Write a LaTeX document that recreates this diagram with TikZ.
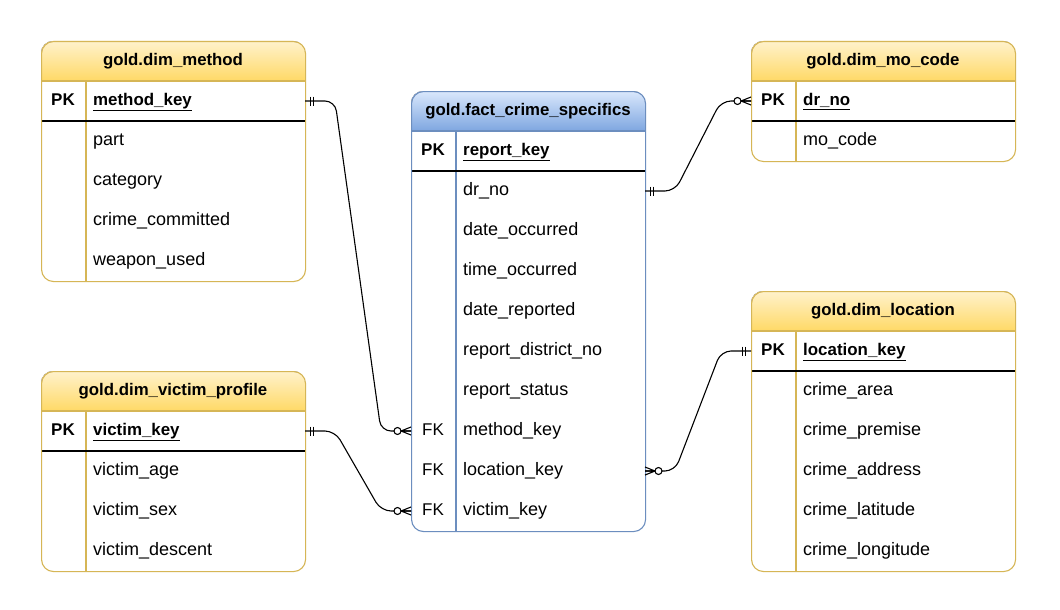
\documentclass[tikz,border=0pt]{standalone}
\usepackage{fontspec}
\setmainfont{Liberation Sans}
\definecolor{yelframe}{HTML}{D6B656}
\definecolor{yeltop}{HTML}{FFF2CC}
\definecolor{yelbot}{HTML}{FFD966}
\definecolor{bluframe}{HTML}{6C8EBF}
\definecolor{blutop}{HTML}{DAE8FC}
\definecolor{blubot}{HTML}{7EA6E0}
\tikzset{
  yel head/.style={top color=yeltop,bottom color=yelbot},
  yel frame/.style={draw=yelframe,line width=1.1pt,rounded corners=12pt},
  yel line/.style={draw=yelframe,line width=1.1pt},
  blu head/.style={top color=blutop,bottom color=blubot},
  blu frame/.style={draw=bluframe,line width=1.1pt,rounded corners=12pt},
  blu line/.style={draw=bluframe,line width=1.1pt},
  sepline/.style={draw=black,line width=1.1pt},
  tabletitle/.style={font=\fontsize{16.8}{20}\selectfont\bfseries,inner sep=0pt,text height=12.5pt,text depth=4pt},
  keytext/.style={font=\fontsize{17}{20}\selectfont,inner sep=0pt,text height=12.5pt,text depth=4pt},
  fieldtext/.style={font=\fontsize{18}{21}\selectfont,inner sep=0pt,text height=13pt,text depth=4pt,anchor=west},
  rel/.style={draw=black,line width=1.1pt,rounded corners=10pt},
  ermark/.style={draw=black,line width=1.1pt},
}
\newcommand\pkfield[1]{{\fontsize{16.9}{20}\selectfont\bfseries\underline{#1}}}
% #1 name #2 x #3 y #4 width #5 rows #6 title #7 colour kind #8 rows list
\newcommand\ertable[8]{%
  \pgfmathsetmacro\erh{40*(#5+1)}%
  \begin{scope}
    \clip[rounded corners=12pt] (#2,#3) rectangle ++(#4,\erh);
    \fill[#7 head] (#2,#3) rectangle ++(#4,40);
  \end{scope}
  \draw[#7 line] (#2,#3+40) -- ++(#4,0);
  \draw[#7 line] (#2+45,#3+40) -- (#2+45,#3+\erh);
  \draw[sepline] (#2,#3+80) -- ++(#4,0);
  \node[#7 frame,minimum width=#4pt,minimum height=\erh pt,anchor=north west,inner sep=0pt] (#1) at (#2,#3) {};
  \node[tabletitle] (#1-t) at (#2+#4/2,#3+20) {#6};
  \foreach \k/\f [count=\i] in {#8} {
    \node[keytext] (#1-k\i) at (#2+22,#3+20+40*\i) {\k};
    \node[fieldtext] (#1-f\i) at (#2+52,#3+20+40*\i) {\f};
    \coordinate (#1-w\i) at (#2,#3+20+40*\i);
    \coordinate (#1-e\i) at (#2+#4,#3+20+40*\i);
  }
}
% mandatory one marker: #1 coordinate, #2 direction (+1 right, -1 left)
\newcommand\erone[2]{%
  \begin{scope}[shift={(#1)},xscale=#2]
    \draw[ermark] (5.5,-4.5) -- (5.5,4.5) (8.5,-4.5) -- (8.5,4.5);
  \end{scope}}
% zero-to-many marker
\newcommand\ermany[2]{%
  \begin{scope}[shift={(#1)},xscale=#2]
    \draw[ermark] (0,-4) -- (10,0) -- (0,4) (0,0) -- (10,0);
    \draw[ermark,fill=white] (13.5,0) circle (3.5pt);
  \end{scope}}
\begin{document}
\begin{tikzpicture}[x=1pt,y=-1pt]
\useasboundingbox[fill=white] (0,0) rectangle (1060,610);

\ertable{method}{41}{41}{264}{5}{gold.dim\_method}{yel}{\textbf{PK}/\pkfield{method\_key},/part,/category,/crime\_committed,/weapon\_used}
\ertable{victim}{41}{371}{264}{4}{gold.dim\_victim\_profile}{yel}{\textbf{PK}/\pkfield{victim\_key},/victim\_age,/victim\_sex,/victim\_descent}
\ertable{fact}{411}{91}{234}{10}{gold.fact\_crime\_specifics}{blu}{\textbf{PK}/\pkfield{report\_key},/dr\_no,/date\_occurred,/time\_occurred,/date\_reported,/report\_district\_no,/report\_status,FK/method\_key,FK/location\_key,FK/victim\_key}
\ertable{mo}{751}{41}{264}{2}{gold.dim\_mo\_code}{yel}{\textbf{PK}/\pkfield{dr\_no},/mo\_code}
\ertable{loc}{751}{291}{264}{6}{gold.dim\_location}{yel}{\textbf{PK}/\pkfield{location\_key},/crime\_area,/crime\_premise,/crime\_address,/crime\_latitude,/crime\_longitude}

\draw[rel] (method-e1) -- ([xshift=30pt]method-e1) -- ([xshift=-30pt]fact-w8) -- (fact-w8);
\draw[rel] (victim-e1) -- ([xshift=30pt]victim-e1) -- ([xshift=-30pt]fact-w10) -- (fact-w10);
\draw[rel] (fact-e2) -- ([xshift=30pt]fact-e2) -- ([xshift=-30pt]mo-w1) -- (mo-w1);
\draw[rel] (fact-e9) -- ([xshift=30pt]fact-e9) -- ([xshift=-30pt]loc-w1) -- (loc-w1);

\erone{method-e1}{1}
\ermany{fact-w8}{-1}
\erone{victim-e1}{1}
\ermany{fact-w10}{-1}
\erone{fact-e2}{1}
\ermany{mo-w1}{-1}
\ermany{fact-e9}{1}
\erone{loc-w1}{-1}
\end{tikzpicture}
\end{document}
